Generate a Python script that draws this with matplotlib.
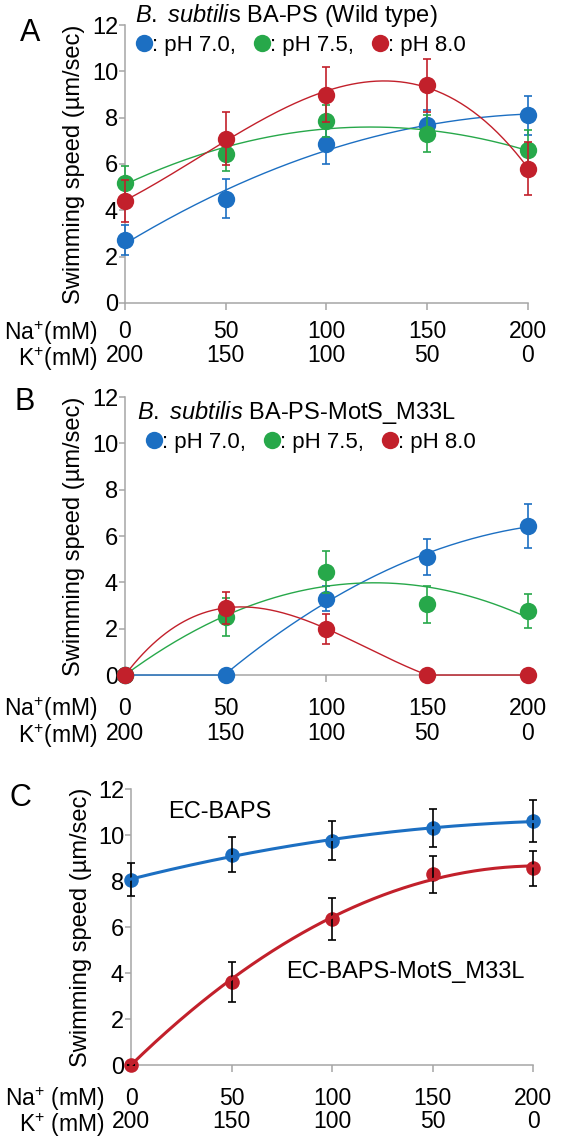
import numpy as np
import matplotlib
matplotlib.use("Agg")
import matplotlib.pyplot as plt

plt.rcParams['font.family'] = ['Liberation Sans', 'DejaVu Sans']
plt.rcParams['mathtext.fontset'] = 'custom'
plt.rcParams['mathtext.rm'] = 'Liberation Sans'
plt.rcParams['mathtext.it'] = 'Liberation Sans:italic'

# Na+ / K+ concentrations (mM)
na = [0, 50, 100, 150, 200]
k = [200, 150, 100, 50, 0]

# Panel A: B. subtilis BA-PS (wild type)
a_ph70 = [2.7, 4.5, 6.85, 7.7, 8.1]
a_ph70_err = [0.65, 0.85, 0.85, 0.65, 0.85]
a_ph75 = [5.2, 6.45, 7.85, 7.3, 6.6]
a_ph75_err = [0.7, 0.75, 0.7, 0.8, 0.85]
a_ph80 = [4.4, 7.1, 9.0, 9.4, 5.8]
a_ph80_err = [0.9, 1.15, 1.2, 1.15, 1.15]

# Panel B: B. subtilis BA-PS-MotS_M33L
b_ph70 = [0, 0, 3.3, 5.1, 6.45]
b_ph70_err = [0, 0, 0.55, 0.77, 0.95]
b_ph75 = [0, 2.5, 4.45, 3.05, 2.75]
b_ph75_err = [0, 0.82, 0.9, 0.8, 0.73]
b_ph80 = [0, 2.9, 2.0, 0, 0]
b_ph80_err = [0, 0.68, 0.64, 0, 0]

# Panel C: E. coli hosts
c_baps = [8.05, 9.15, 9.75, 10.3, 10.6]
c_baps_err = [0.72, 0.77, 0.84, 0.84, 0.91]
c_m33l = [0, 3.6, 6.35, 8.3, 8.55]
c_m33l_err = [0, 0.87, 0.91, 0.8, 0.75]

BLUE = '#1c6fc2'
GREEN = '#27a84a'
RED = '#c2202b'
GRAY = '#a6a6a6'


def fit_curve(x, y, deg, zero=False):
    # polynomial trendline like the spreadsheet ones
    x = np.asarray(x, float)
    y = np.asarray(y, float)
    if zero:
        A = np.vstack([x ** p for p in range(deg, 0, -1)]).T
        coef = np.linalg.lstsq(A, y, rcond=None)[0]
        coef = np.append(coef, 0.0)
    else:
        coef = np.polyfit(x, y, deg)
    xs = np.linspace(x.min(), x.max(), 200)
    return xs, np.polyval(coef, xs)


def style_axes(ax, rows_y, lbl_x, sep=''):
    ax.set_xlim(0, 200)
    ax.set_ylim(0, 12)
    ax.set_yticks(range(0, 13, 2))
    ax.set_xticks(na)
    ax.set_xticklabels([])
    for s in ['top', 'right']:
        ax.spines[s].set_visible(False)
    for s in ['left', 'bottom']:
        ax.spines[s].set_color(GRAY)
        ax.spines[s].set_linewidth(1.1)
    ax.tick_params(axis='both', direction='out', color=GRAY, width=1.1, length=4,
                   labelsize=17, pad=1)
    ax.tick_params(axis='x', length=5)
    trans = ax.get_xaxis_transform()
    for xv, a, b in zip(na, na, k):
        ax.text(xv, rows_y[0], str(a), transform=trans, ha='center', va='center', fontsize=16.5)
        ax.text(xv, rows_y[1], str(b), transform=trans, ha='center', va='center', fontsize=16.5)
    # both row captions in one two-line text
    ax.text(lbl_x, (rows_y[0] + rows_y[1]) / 2 - 0.008,
            'Na$^{+}$' + sep + '(mM)\nK$^{+}$' + sep + '(mM)',
            transform=ax.transAxes, ha='right', va='center', multialignment='right',
            linespacing=0.95, fontsize=16.5)
    ax.set_ylabel('Swimming speed (µm/sec)', fontsize=17)


def draw_series(ax, y, err, color, curve, z, ms=12.5, lw=1.0, ecolor=None, elw=1.2):
    ax.errorbar(na, y, yerr=err, fmt='none', ecolor=ecolor or color, elinewidth=elw,
                capsize=3, capthick=elw, zorder=z + 0.2, clip_on=False)
    ax.plot(na, y, 'o', color=color, ms=ms, mec='none', zorder=z, clip_on=False)
    ax.plot(curve[0], curve[1], '-', color=color, lw=lw, zorder=z + 0.4, clip_on=False)


fig = plt.figure(figsize=(5.64, 11.42), dpi=100)

# ---- Panel A ----
axA = fig.add_axes([0.2216, 0.7347, 0.7145, 0.2434])
draw_series(axA, a_ph70, a_ph70_err, BLUE, fit_curve(na, a_ph70, 2), 3)
draw_series(axA, a_ph75, a_ph75_err, GREEN, fit_curve(na, a_ph75, 2), 4)
draw_series(axA, a_ph80, a_ph80_err, RED, fit_curve(na, a_ph80, 3), 5)
style_axes(axA, (-0.104, -0.19), -0.068)
axA.yaxis.set_label_coords(-0.10, 0.5)
axA.text(0.025, 1.036, r'$\mathit{B.\ subtili}$s BA-PS (Wild type)', transform=axA.transAxes,
         ha='left', va='center', fontsize=17)

# ---- Panel B ----
axB = fig.add_axes([0.2216, 0.4089, 0.7145, 0.2434])
xb, yb = fit_curve(na[1:], b_ph70[1:], 2)
draw_series(axB, b_ph70, b_ph70_err, BLUE,
            (np.concatenate([[0, 50], xb]), np.concatenate([[0, 0], yb])), 3)
draw_series(axB, b_ph75, b_ph75_err, GREEN, fit_curve(na, b_ph75, 2, zero=True), 4)
xr, yr = fit_curve(na[:4], b_ph80[:4], 3)
draw_series(axB, b_ph80, b_ph80_err, RED,
            (np.concatenate([xr, [200]]), np.concatenate([yr, [0]])), 5)
style_axes(axB, (-0.119, -0.209), -0.068)
axB.yaxis.set_label_coords(-0.10, 0.5)
axB.text(0.03, 0.946, r'$\mathit{B.\ subtilis}$ BA-PS-MotS_M33L', transform=axB.transAxes,
         ha='left', va='center', fontsize=17)

# legends for A and B
for ax, (lx, ly) in [(axA, (0.03, 0.928)), (axB, (0.055, 0.838))]:
    handles = [plt.Line2D([], [], marker='o', ls='none', color=c, ms=12.5, mec='none')
               for c in (BLUE, GREEN, RED)]
    ax.legend(handles, [': pH 7.0,', ': pH 7.5,', ': pH 8.0'], ncol=3, frameon=False,
              loc='center left', bbox_to_anchor=(lx, ly), borderaxespad=0, borderpad=0,
              handlelength=0.6, handletextpad=0.05, columnspacing=0.9, fontsize=16)

# ---- Panel C ----
axC = fig.add_axes([0.2323, 0.0674, 0.7128, 0.2417])
draw_series(axC, c_baps, c_baps_err, BLUE, fit_curve(na, c_baps, 2), 3,
            ms=10.5, lw=2.2, ecolor='black', elw=1.2)
draw_series(axC, c_m33l, c_m33l_err, RED, fit_curve(na, c_m33l, 2, zero=True), 4,
            ms=10.5, lw=2.2, ecolor='black', elw=1.2)
style_axes(axC, (-0.12, -0.205), -0.065, sep=' ')
axC.yaxis.set_label_coords(-0.097, 0.5)
axC.text(0.092, 0.917, 'EC-BAPS', transform=axC.transAxes, ha='left', va='center', fontsize=17)
axC.text(0.385, 0.337, 'EC-BAPS-MotS_M33L', transform=axC.transAxes, ha='left', va='center',
         fontsize=17)

# panel letters
fig.text(0.053, 0.971, 'A', fontsize=22, ha='center', va='center')
fig.text(0.043, 0.648, 'B', fontsize=22, ha='center', va='center')
fig.text(0.037, 0.301, 'C', fontsize=22, ha='center', va='center')

fig.savefig('out.png', dpi=100)
